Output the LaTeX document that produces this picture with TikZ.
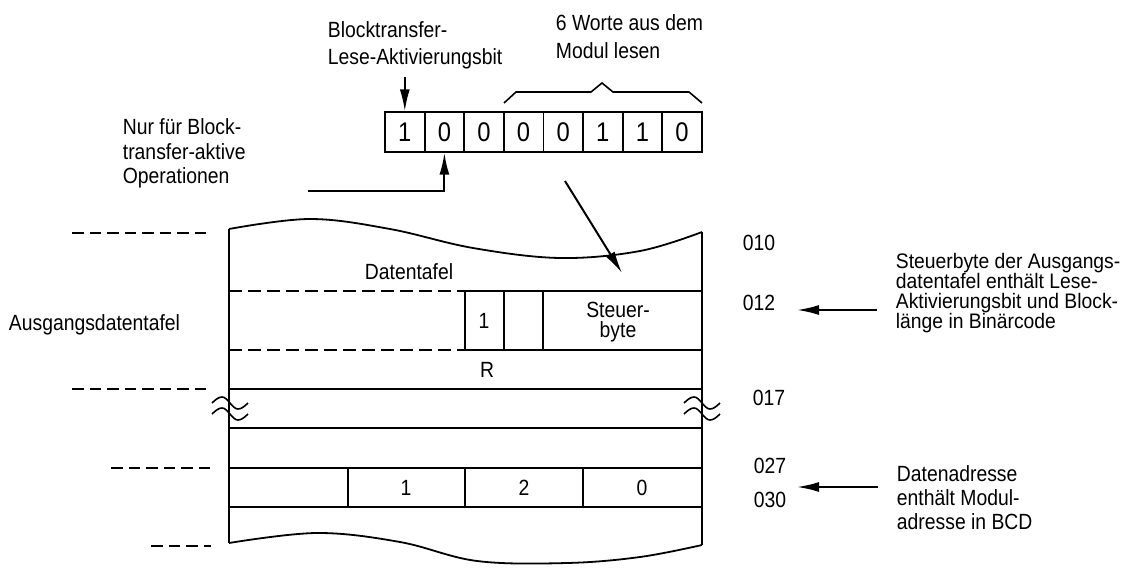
\documentclass[tikz,border=0pt]{standalone}
\usepackage{fontspec}
\setmainfont{Liberation Sans}[FakeStretch=0.88]
\newfontfamily\notefont{Liberation Sans}[FakeStretch=0.92]
\usetikzlibrary{arrows.meta}
\begin{document}
\lineskiplimit=-30pt
\begin{tikzpicture}[x=1pt,y=-1pt,
  line width=1.8pt, line join=miter,
  txt/.style={inner sep=0pt, font=\fontsize{22}{24}\selectfont},
  bitbox/.style={draw, minimum width=39.6pt, minimum height=39.6pt,
    inner sep=0pt, font=\fontsize{27}{27}\selectfont},
  arr/.style={line width=2pt, -{Latex[length=22pt,width=10pt]}},
  guide/.style={dash pattern=on 11.5pt off 6pt, line width=2pt},
  rowdash/.style={dash pattern=on 13pt off 6pt},
]
\useasboundingbox (0,0) rectangle (1133,570);

% control byte bits
\foreach \v [count=\i] in {1,0,0,0,0,1,1,0}
  \node[bitbox] (b\i) at ({385+39.6*(\i-0.5)},132) {\v};

% brace over the six length bits
\draw[line width=1.6pt] (504,103) -- (516,92) -- (591,92) -- (602,83)
  -- (613,92) -- (689,92) -- (702,103);

% labels above the byte
\node[txt, align=left, anchor=north west, font=\fontsize{22}{27}\selectfont]
  (lblA) at (327,21) {Blocktransfer-\\Lese-Aktivierungsbit};
\node[txt, align=left, anchor=north west, font=\fontsize{22}{28}\selectfont]
  (lblB) at (555,14) {6 Worte aus dem\\Modul lesen};
\node[txt, align=left, anchor=north west, font=\fontsize{22}{24.5}\selectfont]
  (lblC) at (122,118) {Nur für Block-\\transfer-aktive\\Operationen};

\path (b1.north) ++(0,-34) coordinate (pA);
\draw[arr] (pA) -- (b1.north);
\coordinate (pB) at (308,191);
\draw[arr] (pB) -- (pB -| b2.south) -- (b2.south);
\coordinate (pC) at (565,181);
\coordinate (pD) at (622,273);
\draw[arr] (pC) -- (pD);

% output data table outline
\draw plot[smooth, tension=0.6] coordinates
  {(229,229) (310,219) (390,229) (473,248) (560,258) (640,251) (702,232)};
\draw plot[smooth, tension=0.6] coordinates
  {(229,543) (317,533) (400,542) (477,561) (567,563) (640,557) (702,545)};
\draw (229,229) -- (229,543);
\draw (702,232) -- (702,545);

% rows
\draw[rowdash] (229,291) -- (465,291);
\draw (465,291) -- (702,291);
\draw[rowdash] (229,350) -- (465,350);
\draw (465,350) -- (702,350);
\foreach \x in {465,504,543} \draw (\x,291) -- (\x,350);
\draw (229,389) -- (702,389);
\draw (229,428) -- (702,428);
\draw (229,468) -- (702,468);
\draw (229,507) -- (702,507);
\foreach \x in {348,465,583} \draw (\x,468) -- (\x,507);

% break marks
\foreach \dx in {0,472} {
  \draw[line width=1.6pt] (212+\dx,403) sin (222+\dx,397) cos (230+\dx,403)
    sin (238+\dx,409) cos (248+\dx,403);
  \draw[line width=1.6pt] (212+\dx,414) sin (222+\dx,408) cos (230+\dx,414)
    sin (238+\dx,420) cos (248+\dx,414);
}

% address guides on the left
\draw[guide] (72,233) -- (211,233);
\draw[guide] (72,389) -- (211,389);
\draw[guide] (111,468) -- (211,468);
\draw[guide] (151,546) -- (211,546);

% table texts
\node[txt] (tDat) at (409,272) {Datentafel};
\node[txt] (tOne) at (484,321) {1};
\node[txt, align=center, font=\fontsize{22}{20}\selectfont] (tSteu) at (618,322) {Steuer-\\byte};
\node[txt] (tR) at (487,370) {R};
\node[txt] (tA1) at (406,488) {1};
\node[txt] (tA2) at (524,488) {2};
\node[txt] (tA3) at (642,488) {0};
\node[txt, anchor=base west] (tAus) at (8,330) {Ausgangsdatentafel};

% addresses
\node[txt, anchor=west] (a010) at (742,243) {010};
\node[txt, anchor=west] (a012) at (742,303) {012};
\node[txt, anchor=west] (a017) at (752,398) {017};
\node[txt, anchor=west] (a027) at (753,466) {027};
\node[txt, anchor=west] (a030) at (753,500) {030};

% notes on the right
\node[txt, align=left, anchor=north west, font=\notefont\fontsize{21}{20}\selectfont]
  (lblS) at (895,252) {Steuerbyte der Ausgangs-\\datentafel enthält Lese-\\Aktivierungsbit und Block-\\länge in Binärcode};
\node[txt, align=left, anchor=north west, font=\fontsize{22}{24}\selectfont]
  (lblD) at (896,465) {Datenadresse\\enthält Modul-\\adresse in BCD};

\coordinate (sS) at (877,310);
\coordinate (eS) at (797,310);
\draw[arr] (sS) -- (eS);
\coordinate (sD) at (878,487);
\coordinate (eD) at (797,487);
\draw[arr] (sD) -- (eD);
\end{tikzpicture}
\end{document}
